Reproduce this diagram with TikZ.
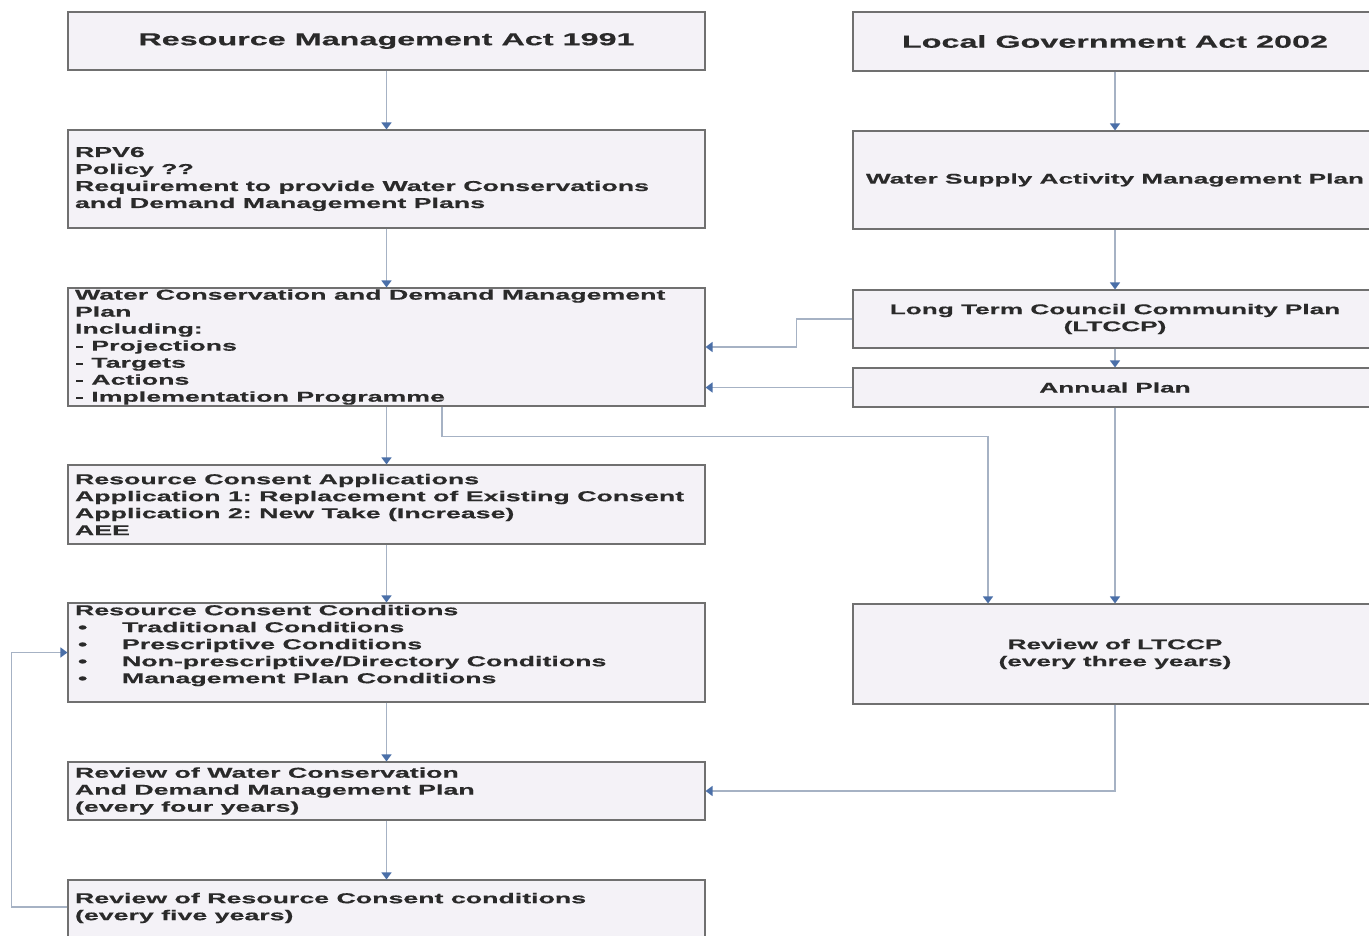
\documentclass[tikz,border=0pt]{standalone}
\usepackage{fontspec}
\newfontfamily\bodyfam{Liberation Sans}[FakeStretch=1.87,FakeBold=0.5]
\newcommand\bodyf{\bodyfam\bfseries\fontsize{14}{17}\selectfont\frenchspacing}
\newcommand\leftf{\bodyfam\bfseries\fontsize{14.3}{17}\selectfont\frenchspacing}
\newcommand\titlef{\bodyfam\bfseries\fontsize{17.3}{21}\selectfont}
\newcommand\bul{\makebox[47pt][l]{\hspace{3pt}\textbullet}}
\usetikzlibrary{arrows.meta}
\definecolor{boxfill}{HTML}{F4F2F7}
\definecolor{boxline}{HTML}{707070}
\definecolor{linec}{HTML}{A6B2C4}
\definecolor{tipc}{HTML}{4A6FA8}
\definecolor{txt}{HTML}{2A2A2A}
\begin{document}
\begin{tikzpicture}[x=1pt,y=-1pt,
  box/.style={draw=boxline,line width=1.1pt,fill=boxfill,inner sep=0pt,text=txt,font=\bodyf},
  lbox/.style={box,font=\leftf,minimum width=637pt,text width=623pt,align=flush left,inner xsep=7pt},
  rbox/.style={box,minimum width=524pt,align=center},
  conn/.style={draw=linec,line width=1.4pt,-{Triangle[width=10pt,length=7pt,color=tipc]}}]
\useasboundingbox (0,0) rectangle (1369,935);
\clip (0,0) rectangle (1369,935);
\fill[white] (0,0) rectangle (1369,935);
% left column
\node[lbox,minimum height=58pt,align=flush center,font=\titlef] (rma) at (386.5,41) {Resource Management Act 1991};
\node[lbox,minimum height=98pt] (rpv) at (386.5,179) {RPV6\\Policy ??\\Requirement to provide Water Conservations\\and Demand Management Plans};
\node[lbox,minimum height=118pt] (wcd) at (386.5,347) {Water Conservation and Demand Management\\Plan\\Including:\\- Projections\\- Targets\\- Actions\\- Implementation Programme};
\node[lbox,minimum height=79pt] (rca) at (386.5,504.5) {Resource Consent Applications\\Application 1: Replacement of Existing Consent\\Application 2: New Take (Increase)\\AEE};
\node[lbox,minimum height=99pt] (rcc) at (386.5,652.5) {Resource Consent Conditions\\\bul Traditional Conditions\\\bul Prescriptive Conditions\\\bul Non-prescriptive/Directory Conditions\\\bul Management Plan Conditions\\\mbox{}};
\node[lbox,minimum height=58pt] (rwc) at (386.5,791) {Review of Water Conservation\\And Demand Management Plan\\(every four years)};
\node[lbox,minimum height=70pt] (rrc) at (386.5,915) {Review of Resource Consent conditions\\(every five years)\\\mbox{}};
% right column
\node[rbox,minimum height=59pt,font=\titlef] (lga) at (1115,41.5) {Local Government Act 2002};
\node[rbox,minimum height=98pt] (wsa) at (1115,180) {Water Supply Activity Management Plan};
\node[rbox,minimum height=58pt] (ltc) at (1115,319) {Long Term Council Community Plan\\(LTCCP)};
\node[rbox,minimum height=39pt] (ann) at (1115,387.5) {Annual Plan};
\node[rbox,minimum height=100pt] (rlt) at (1115,654) {Review of LTCCP\\(every three years)};
% connectors
\draw[conn] (rma) -- (rpv);
\draw[conn] (rpv) -- (wcd);
\draw[conn] (wcd) -- (rca);
\draw[conn] (rca) -- (rcc);
\draw[conn] (rcc) -- (rwc);
\draw[conn] (rwc) -- (rrc);
\draw[conn] (lga) -- (wsa);
\draw[conn] (wsa) -- (ltc);
\draw[conn] (ltc) -- (ann);
\draw[conn] (ann) -- (rlt);
\draw[conn] (ltc.west) -- ++(-56,0) |- (wcd.east);
\draw[conn] (ann.west) -- (wcd.east |- ann.west);
\draw[conn] ([xshift=55.5pt]wcd.south) -- ++(0,30) -| ([xshift=-127pt]rlt.north);
\draw[conn] (rlt.south) |- (rwc.east);
\draw[conn] ([yshift=8pt]rrc.west) -- ++(-56,0) |- (rcc.west);
\end{tikzpicture}
\end{document}
